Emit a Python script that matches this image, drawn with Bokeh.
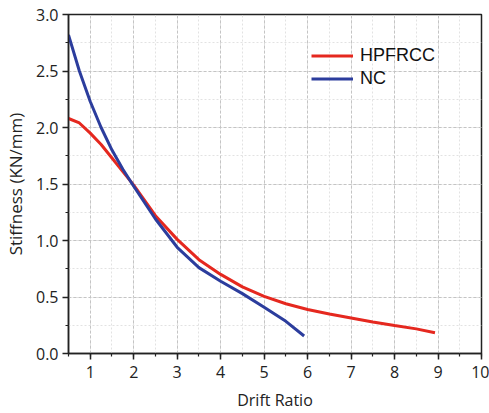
from bokeh.plotting import figure
from bokeh.models import SingleIntervalTicker, NumeralTickFormatter, Legend, LegendItem, Range1d
from bokeh.embed import file_html
from bokeh.resources import INLINE

# Data
hp_x = [0.5, 0.75, 1.0, 1.25, 1.5, 1.75, 2.0, 2.5, 3.0, 3.5, 4.0, 4.5, 5.0, 5.5, 6.0, 6.5, 7.0, 7.5, 8.0, 8.5, 8.93]
hp_y = [2.08, 2.04, 1.95, 1.85, 1.73, 1.61, 1.49, 1.22, 1.01, 0.83, 0.70, 0.59, 0.505, 0.44, 0.39, 0.35, 0.315, 0.278, 0.247, 0.218, 0.183]
nc_x = [0.5, 0.75, 1.0, 1.25, 1.5, 1.75, 2.0, 2.5, 3.0, 3.5, 4.0, 4.5, 5.0, 5.5, 5.92]
nc_y = [2.82, 2.50, 2.23, 2.00, 1.80, 1.63, 1.48, 1.19, 0.94, 0.76, 0.64, 0.53, 0.41, 0.285, 0.155]

x_ticks_interval = 1
y_ticks_interval = 0.5

RED = "#e5281f"
BLUE = "#2c3d9d"
FONT = "Open Sans"

p = figure(width=489, height=413, output_backend="svg", toolbar_location=None,
           x_range=Range1d(0.5, 10), y_range=Range1d(0, 3),
           min_border_left=68, min_border_right=8, min_border_top=14, min_border_bottom=59)

r1 = p.line(hp_x, hp_y, line_color=RED, line_width=3)
r2 = p.line(nc_x, nc_y, line_color=BLUE, line_width=3)

p.xaxis.ticker = SingleIntervalTicker(interval=x_ticks_interval, num_minor_ticks=2)
p.yaxis.ticker = SingleIntervalTicker(interval=y_ticks_interval, num_minor_ticks=2)
p.yaxis.formatter = NumeralTickFormatter(format="0.0")
p.xaxis.formatter = NumeralTickFormatter(format="0")

for ax in (p.xaxis, p.yaxis):
    ax.axis_line_width = 1.5
    ax.axis_line_color = "#222222"
    ax.major_tick_line_color = "#222222"
    ax.minor_tick_line_color = "#222222"
    ax.major_tick_line_width = 1.5
    ax.minor_tick_line_width = 1.2
    ax.major_tick_in = 0
    ax.major_tick_out = 6
    ax.minor_tick_in = 0
    ax.minor_tick_out = 3
    ax.major_label_text_font = FONT
    ax.major_label_text_font_size = "16px"
    ax.major_label_text_color = "#222222"
    ax.axis_label_text_font = FONT
    ax.axis_label_text_font_style = "normal"
    ax.axis_label_text_color = "#222222"

p.xaxis.axis_label = "Drift Ratio"
p.yaxis.axis_label = "Stiffness (KN/mm)"
p.xaxis.axis_label_text_font_size = "16px"
p.yaxis.axis_label_text_font_size = "17px"
p.xaxis.major_label_standoff = 6
p.yaxis.major_label_standoff = 4
p.xaxis.axis_label_standoff = 8
p.yaxis.axis_label_standoff = 6

p.xgrid.grid_line_color = "#c4c4c4"
p.ygrid.grid_line_color = "#c4c4c4"
p.xgrid.grid_line_dash = "3 2"
p.ygrid.grid_line_dash = "3 2"
p.xgrid.minor_grid_line_color = "#e2e2e2"
p.ygrid.minor_grid_line_color = "#e2e2e2"
p.xgrid.minor_grid_line_dash = "2 2"
p.ygrid.minor_grid_line_dash = "2 2"

p.outline_line_color = "#222222"
p.outline_line_width = 1.5
p.background_fill_color = "white"
p.border_fill_color = "white"

legend = Legend(items=[LegendItem(label="HPFRCC", renderers=[r1]),
                       LegendItem(label="NC", renderers=[r2])],
                location=(243, 263))
legend.label_text_font = "Liberation Sans"
legend.label_text_font_size = "18px"
legend.label_text_color = "#111111"
legend.glyph_width = 42
legend.glyph_height = 23
legend.label_height = 23
legend.label_standoff = 7
legend.spacing = 0
legend.padding = 0
legend.margin = 0
legend.background_fill_alpha = 0
legend.border_line_alpha = 0
p.add_layout(legend)

open("out.html", "w").write(file_html(p, INLINE))
